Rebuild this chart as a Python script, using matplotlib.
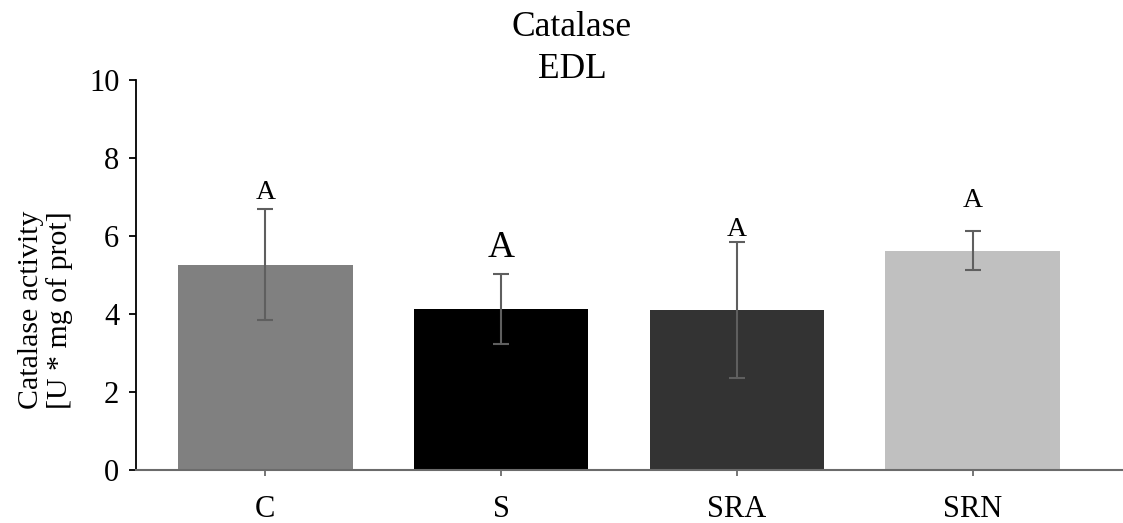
import matplotlib
matplotlib.use("Agg")
import matplotlib.pyplot as plt
import numpy as np

# Catalase activity in EDL muscle, per group
groups = ["C", "S", "SRA", "SRN"]
activity = [5.26, 4.13, 4.10, 5.62]
errors = [1.42, 0.90, 1.74, 0.50]
letters = ["A", "A", "A", "A"]
letter_sizes = [20, 27, 20, 20]
letter_pad = [3, 6, 0, 13]
bar_colors = ["#808080", "#000000", "#333333", "#c0c0c0"]

plt.rcParams["font.family"] = ["Liberation Serif", "DejaVu Serif"]

W, H = 1123, 523
fig = plt.figure(figsize=(W / 100, H / 100), dpi=100)
ax = fig.add_axes([136 / W, (H - 470) / H, (W - 136) / W, 390 / H])

x = np.arange(len(groups))
ax.bar(x, activity, width=0.74, color=bar_colors, zorder=2)
ax.errorbar(x, activity, yerr=errors, fmt="none", ecolor="#5f5f5f",
            elinewidth=1.5, capsize=6, capthick=1.5, zorder=3)

for xi, v, e, lab, fs, pad in zip(x, activity, errors, letters, letter_sizes, letter_pad):
    ax.annotate(lab, (xi, v + e), xytext=(0, pad), textcoords="offset points",
                ha="center", va="bottom", fontsize=fs, zorder=4)

ax.set_xlim(-0.549, 3.638)
ax.set_ylim(0, 10)
ax.set_yticks([0, 2, 4, 6, 8, 10])
ax.set_xticks(x)
ax.set_xticklabels(groups)

for s in ["top", "right"]:
    ax.spines[s].set_visible(False)
ax.spines["left"].set_color("black")
ax.spines["left"].set_linewidth(1.3)
ax.spines["bottom"].set_color("#6b6b6b")
ax.spines["bottom"].set_linewidth(1.5)
ax.spines["bottom"].set_zorder(5)

ax.tick_params(axis="y", direction="out", length=5, width=1.3, labelsize=22, pad=7)
ax.tick_params(axis="x", direction="out", length=4, width=1.3, color="#6b6b6b",
               labelsize=22, pad=14)

ax.set_ylabel("Catalase activity\n[U * mg of prot]", fontsize=21.5, linespacing=1.1)
ax.yaxis.set_label_coords(-0.064, 0.41)

fig.text(572 / W, 1 - 27 / H, "Catalase", ha="center", va="center", fontsize=25.5)
fig.text(572 / W, 1 - 70 / H, "EDL", ha="center", va="center", fontsize=25.5)

fig.savefig("out.png", dpi=100)
